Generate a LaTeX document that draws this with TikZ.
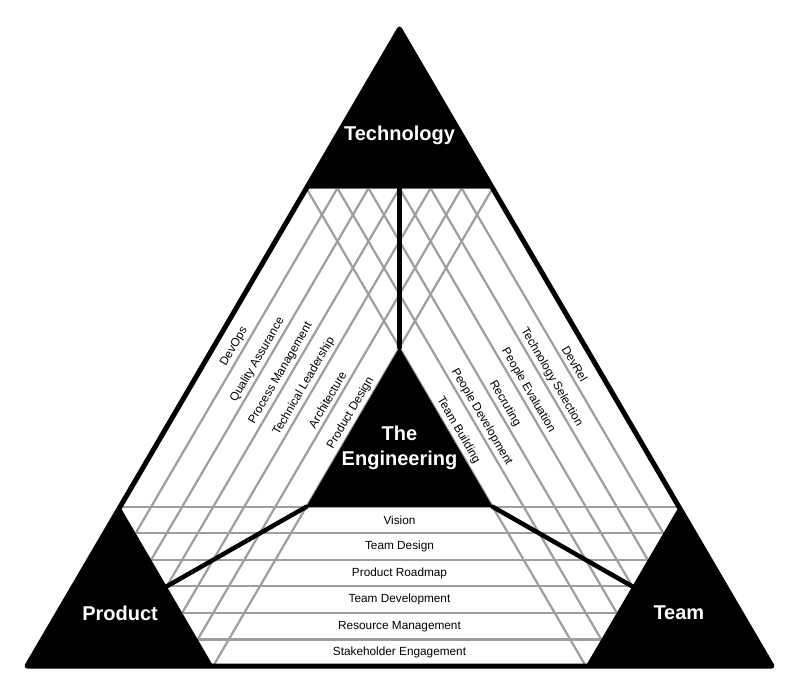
\documentclass[tikz,border=0pt]{standalone}
\usepackage{fontspec}
\setmainfont{Liberation Sans}
\definecolor{lg}{RGB}{158,158,158}
\begin{document}
\begin{tikzpicture}[x=1pt,y=-1pt,
  gline/.style={draw=lg, line width=2.2pt},
  thickline/.style={draw=black, line width=4.5pt, line cap=round},
  outerline/.style={draw=black, line width=5pt, line join=round},
  biglabel/.style={text=white, font=\bfseries\fontsize{20}{25}\selectfont, align=center, inner sep=0pt},
  smalllabel/.style={text=black, font=\fontsize{11.8}{14}\selectfont, inner sep=0pt}]
\fill[white] (0,0) rectangle (800,699);
\path[use as bounding box] (0,0) rectangle (800,699);
\begin{scope}[shift={(399.5,29)}, x={(-372.5pt,-637pt)}, y={(372.5pt,-637pt)}]
  % corner points
  \coordinate (A) at (0,0);
  \coordinate (B) at (1,0);
  \coordinate (C) at (0,1);
  % left band lines (parallel to AB)
  \foreach \k in {1,...,6} {
    \draw[gline] (0,{\k/24}) -- ({1-\k/24},{\k/24});
  }
  % right band lines (parallel to AC)
  \foreach \k in {1,...,6} {
    \draw[gline] ({\k/24},0) -- ({\k/24},{1-\k/24});
  }
  % bottom band lines (parallel to BC)
  \foreach \k in {0,...,5} {
    \draw[gline] ({0.75+\k/24},0) -- (0,{0.75+\k/24});
  }
  \draw[gline] (0.25,0) -- (0,0.25);
  % black triangles
  \fill[black] (A) -- (0.25,0) -- (0,0.25) -- cycle;
  \fill[black] (B) -- (0.75,0) -- (0.75,0.25) -- cycle;
  \fill[black] (C) -- (0,0.75) -- (0.25,0.75) -- cycle;
  \fill[black] (0.25,0.25) coordinate (ia) -- (0.5,0.25) coordinate (ib) -- (0.25,0.5) coordinate (ic) -- cycle;
  % thick dividers
  \coordinate (mt) at (0.125,0.125);
  \coordinate (mp) at (0.75,0.125);
  \coordinate (mm) at (0.125,0.75);
  \draw[thickline] (mt) -- (ia);
  \draw[thickline] (ib) -- (mp);
  \draw[thickline] (ic) -- (mm);
  % outer border
  \draw[outerline] (A) -- (B) -- (C) -- cycle;
  % big labels
  \node[biglabel] (tech) at ({1/12},{1/12}) {Technology};
  \node[biglabel] (prod) at ({5/6},{1/12}) {Product};
  \node[biglabel] (team) at ({1/12},{5/6}) {Team};
  \node[biglabel] (eng) at (0.329,0.329) {The\\Engineering};
  % left band labels
  \foreach \t [count=\k] in {DevOps,Quality Assurance,Process Management,Technical Leadership,Architecture,Product Design} {
    \pgfmathsetmacro{\vv}{(\k-1+0.66)/24}
    \pgfmathsetmacro{\uu}{0.485-\vv/2}
    \node[smalllabel, rotate=59.7] (l\k) at (\uu,\vv) {\t};
  }
  % right band labels
  \foreach \t [count=\k] in {DevRel,Technology Selection,People Evaluation,Recruting,People Development,Team Building} {
    \pgfmathsetmacro{\uu}{(\k-1+0.66)/24}
    \pgfmathsetmacro{\vv}{0.512-\uu/2}
    \node[smalllabel, rotate=-59.7] (r\k) at (\uu,\vv) {\t};
  }
  % bottom band labels
  \foreach \t [count=\k] in {Vision,Team Design,Product Roadmap,Team Development,Resource Management,Stakeholder Engagement} {
    \pgfmathsetmacro{\ss}{(0.75+(\k-0.5)/24)/2}
    \node[smalllabel] (b\k) at (\ss,\ss) {\t};
  }
\end{scope}
\end{tikzpicture}
\end{document}
